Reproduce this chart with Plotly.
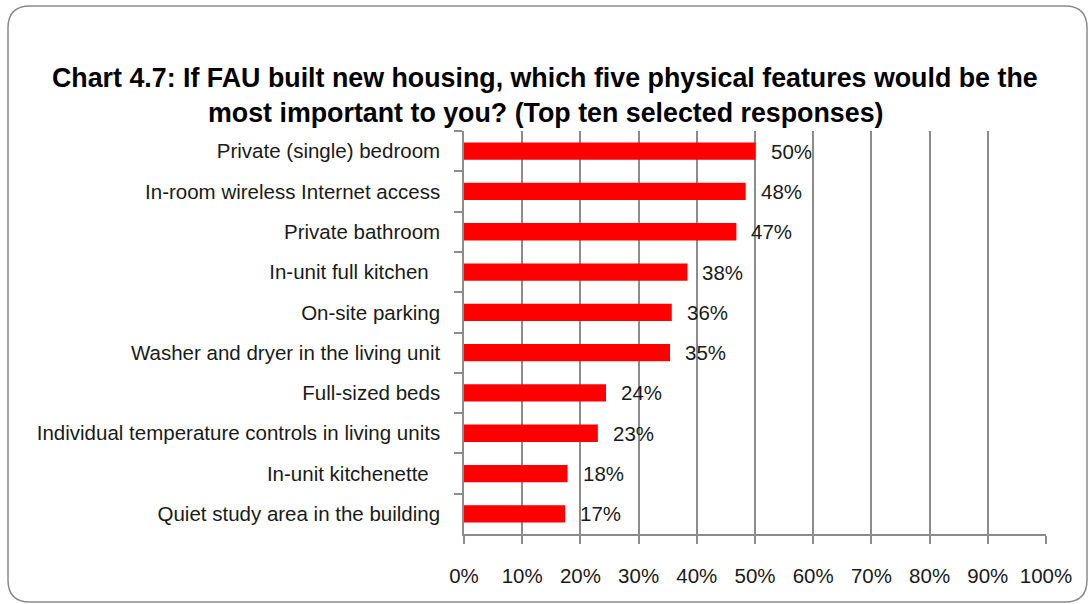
import plotly.graph_objects as go

# Survey responses (share of respondents), listed top to bottom
features = [
    "Private (single) bedroom",
    "In-room wireless Internet access",
    "Private bathroom",
    "In-unit full kitchen\u00a0\u00a0",
    "On-site parking",
    "Washer and dryer in the living unit",
    "Full-sized beds",
    "Individual temperature controls in living units",
    "In-unit kitchenette\u00a0\u00a0",
    "Quiet study area in the building",
]
shares = [50.1, 48.4, 46.8, 38.4, 35.7, 35.4, 24.4, 23.0, 17.8, 17.4]
tick_vals = [0, 10, 20, 30, 40, 50, 60, 70, 80, 90, 100]
tick_text = [f"{v}%" for v in tick_vals]

title_lines = [
    "Chart 4.7: If FAU built new housing, which five physical features would be the",
    "most important to you? (Top ten selected responses)",
]

LABEL_FONT = "Liberation Sans, Arial, sans-serif"
BOLD = "Liberation Sans, Arial, sans-serif"
GRID = "#8c8c8c"
TXT = "#1a1a1a"

# figure geometry (pixels)
W_FIG, H_FIG = 1090, 604
L, R, T, B = 464, 1046, 131, 534


def fx(p):
    return (p - L) / (R - L)


def fy(p):
    return (B - p) / (B - T)


fig = go.Figure()
fig.add_trace(go.Bar(
    x=shares,
    y=features,
    orientation="h",
    width=0.43,
    marker=dict(color="#ff0000", line=dict(width=0)),
    hoverinfo="skip",
))

# value labels placed just past each bar end
for f, v in zip(features, shares):
    fig.add_annotation(
        x=v, y=f, xref="x", yref="y",
        text=f"{v:.0f}%", showarrow=False,
        xanchor="left", xshift=13,
        font=dict(family=LABEL_FONT, size=20.5, color=TXT),
    )

# two-line bold title
for line, py in zip(title_lines, [78, 113]):
    fig.add_annotation(
        x=fx(545), y=fy(py), xref="paper", yref="paper",
        text=f"<b>{line}</b>", showarrow=False,
        xanchor="center", yanchor="middle",
        font=dict(family=BOLD, size=26.8, color="#000000"),
    )

# rounded frame around the whole chart
x0, y0, x1, y1, r = 8, 6, 1087, 602, 22
path = (
    f"M {fx(x0 + r)},{fy(y0)} L {fx(x1 - r)},{fy(y0)} "
    f"Q {fx(x1)},{fy(y0)} {fx(x1)},{fy(y0 + r)} "
    f"L {fx(x1)},{fy(y1 - r)} Q {fx(x1)},{fy(y1)} {fx(x1 - r)},{fy(y1)} "
    f"L {fx(x0 + r)},{fy(y1)} Q {fx(x0)},{fy(y1)} {fx(x0)},{fy(y1 - r)} "
    f"L {fx(x0)},{fy(y0 + r)} Q {fx(x0)},{fy(y0)} {fx(x0 + r)},{fy(y0)} Z"
)
fig.add_shape(type="path", path=path, xref="paper", yref="paper",
              line=dict(color="#8a8a8a", width=1.5), layer="below")

fig.update_layout(
    width=W_FIG, height=H_FIG,
    margin=dict(l=L, r=W_FIG - R, t=T, b=H_FIG - B, pad=0, autoexpand=False),
    paper_bgcolor="white", plot_bgcolor="white",
    showlegend=False,
    xaxis=dict(
        range=[0, 100], tickvals=tick_vals, ticktext=tick_text,
        showgrid=True, gridcolor=GRID, gridwidth=1.5,
        showline=True, linecolor=GRID, linewidth=1.5,
        ticks="outside", ticklen=8, tickcolor=GRID, tickwidth=1.5,
        ticklabelstandoff=15, tickangle=0, automargin=False,
        tickfont=dict(family=LABEL_FONT, size=20.5, color=TXT),
        zeroline=False, fixedrange=True,
    ),
    yaxis=dict(
        categoryorder="array", categoryarray=features, autorange="reversed",
        showgrid=False, showline=True, linecolor=GRID, linewidth=1.5,
        ticks="outside", ticklen=8, tickcolor=GRID, tickwidth=1.5,
        tickson="boundaries", ticklabelstandoff=18, automargin=False,
        tickfont=dict(family=LABEL_FONT, size=20.5, color=TXT),
        fixedrange=True,
    ),
)

fig.write_html("out.html")
